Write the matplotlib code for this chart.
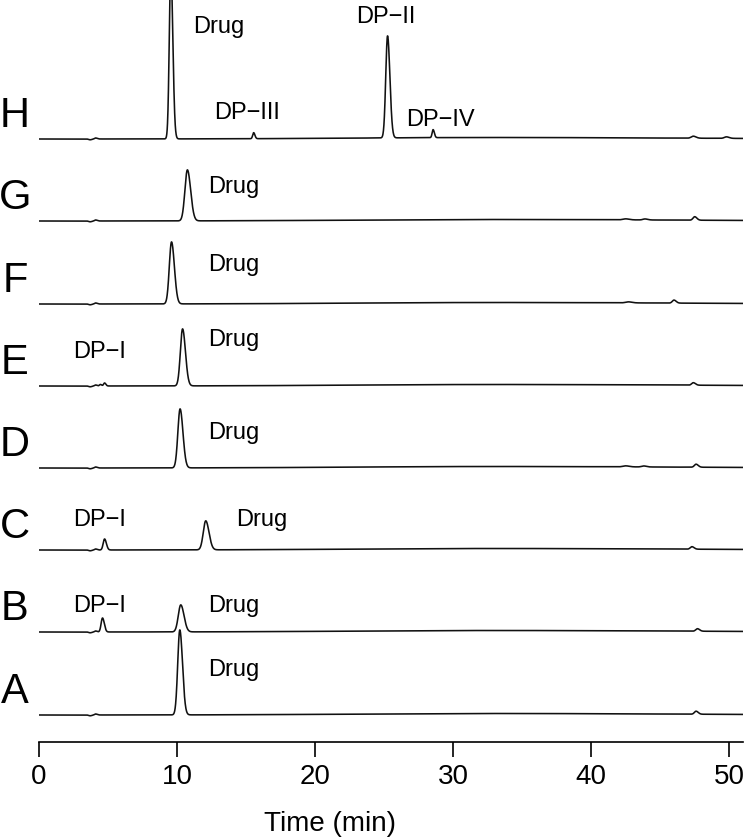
import numpy as np
import matplotlib
matplotlib.use('Agg')
import matplotlib.pyplot as plt

plt.rcParams['font.family'] = ['Liberation Sans', 'DejaVu Sans']

# trace names, bottom to top, and their baseline offsets (arbitrary units)
TRACES = ['A', 'B', 'C', 'D', 'E', 'F', 'G', 'H']
OFFSETS = [27, 110, 192, 274, 356, 438, 521, 603]

# peaks per trace: (retention time min, height, sigma min)
PEAKS = {
    'A': [(10.2, 85, 0.15), (47.6, 3, 0.12)],
    'B': [(4.6, 14, 0.1), (10.27, 27, 0.18), (47.7, 2.5, 0.12)],
    'C': [(4.75, 11, 0.1), (12.08, 29, 0.18), (47.3, 2.5, 0.12)],
    'D': [(10.22, 59, 0.16), (42.5, 1, 0.2), (43.8, 1, 0.15), (47.6, 3, 0.12)],
    'E': [(4.45, 1.5, 0.07), (4.75, 3, 0.07), (10.4, 57, 0.16), (47.4, 2.5, 0.12)],
    'F': [(9.6, 62, 0.16), (42.7, 1, 0.2), (46.0, 3, 0.12)],
    'G': [(10.75, 51, 0.18), (42.5, 1, 0.2), (43.9, 1, 0.15), (47.5, 3.5, 0.12)],
    'H': [(9.55, 170, 0.11), (15.55, 6, 0.07), (25.25, 102, 0.13),
          (28.55, 8, 0.07), (47.4, 2, 0.15), (49.8, 1.5, 0.15)],
}
# small features shared by every trace: (time, height, sigma)
COMMON = [(3.7, -0.8, 0.1), (4.1, 1.0, 0.08), (33.0, 1.5, 10.0)]

# labels per trace: (text, time, height above baseline, alignment)
LABELS = {
    'A': [('Drug', 12.25, 45, 'left')],
    'B': [('DP\u2212I', 4.42, 26, 'center'), ('Drug', 12.25, 26, 'left')],
    'C': [('DP\u2212I', 4.42, 30, 'center'), ('Drug', 14.28, 30, 'left')],
    'D': [('Drug', 12.25, 35, 'left')],
    'E': [('DP\u2212I', 4.42, 34, 'center'), ('Drug', 12.25, 46, 'left')],
    'F': [('Drug', 12.25, 39, 'left')],
    'G': [('Drug', 12.25, 34, 'left')],
    'H': [('Drug', 11.16, 112, 'left'), ('DP\u2212III', 15.07, 26, 'center'),
          ('DP\u2212II', 25.15, 122, 'center'), ('DP\u2212IV', 29.06, 19, 'center')],
}


def signal(t, peaks):
    y = np.zeros_like(t)
    for rt, h, s in peaks:
        # a little tailing on the right side
        sig = np.where(t < rt, s, s * 1.3)
        y += h * np.exp(-0.5 * ((t - rt) / sig) ** 2)
    return y


def main():
    fig = plt.figure(figsize=(7.45, 8.39), dpi=100)
    ax = fig.add_axes([39 / 745, 97 / 839, 704 / 745, 742 / 839])

    t = np.linspace(0, 51, 6000)
    for name, off in zip(TRACES, OFFSETS):
        y = off + signal(t, PEAKS[name] + COMMON)
        ax.plot(t, y, color='#111111', lw=1.15)
        ax.text(-1.74, off + 12, name, fontsize=30, ha='center',
                va='baseline', clip_on=False)
        for text, x, h, ha in LABELS[name]:
            ax.text(x, off + h, text, fontsize=17, ha=ha, va='center')

    ax.set_xlim(0, 51)
    ax.set_ylim(0, 742)
    for side in ['left', 'right', 'top']:
        ax.spines[side].set_visible(False)
    ax.spines['bottom'].set_linewidth(1.2)
    ax.set_yticks([])
    ax.set_xticks([0, 10, 20, 30, 40, 50])
    ax.tick_params(axis='x', direction='out', length=11, width=1.2, pad=5,
                   labelsize=20)
    ax.set_xlabel('Time (min)', fontsize=20)
    ax.xaxis.set_label_coords((330 - 39) / 704, -0.093)

    fig.savefig('out.png', dpi=100)


if __name__ == '__main__':
    main()
